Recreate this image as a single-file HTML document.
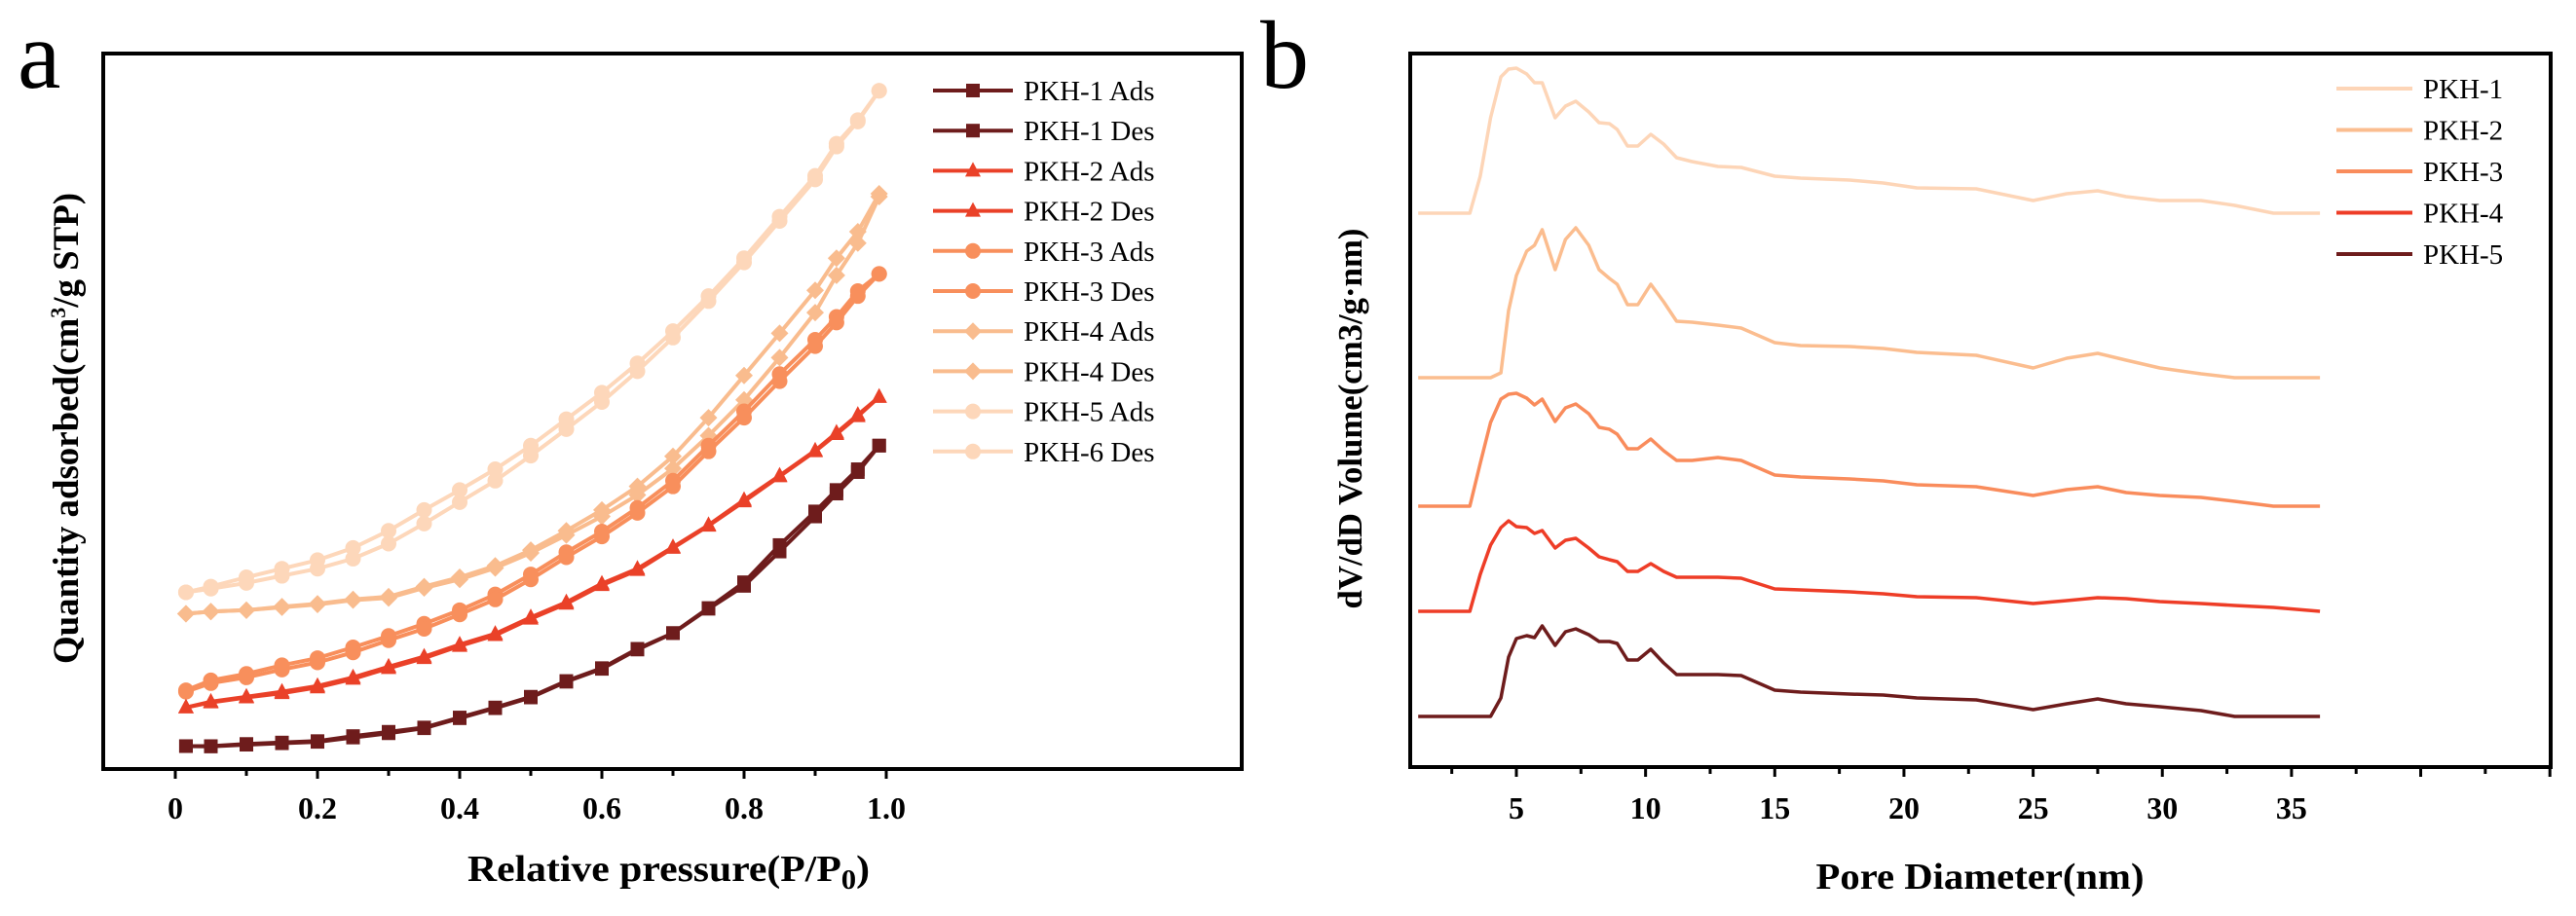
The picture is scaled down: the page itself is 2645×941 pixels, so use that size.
<!DOCTYPE html>
<html><head><meta charset="utf-8"><style>
html,body{margin:0;padding:0;background:#fff;}
svg{display:block;font-family:"Liberation Serif",serif;}
</style></head><body>
<svg id="fig" width="2645" height="941" viewBox="0 0 2645 941" xmlns="http://www.w3.org/2000/svg">
<text x="18" y="90" font-size="100">a</text>
<text x="1294" y="90" font-size="100">b</text>
<g id="pa"></g>
<g id="pb"></g>
</svg>
<script>
// ---------- Panel a data ----------
const pGrid = [0.015,0.05,0.1,0.15,0.2,0.25,0.3,0.35,0.4,0.45,0.5,0.55,0.6,0.65,0.7,0.75,0.8,0.85,0.9,0.93,0.96,0.99];
const pkh1Ads = [3.2,3.15,3.4,3.6,3.8,4.4,5.0,5.7,7.1,8.5,10.0,12.2,14.0,16.7,19.0,22.5,26.1,31.3,36.0,39.0,41.9,45.2];
const pkh1Des = [3.2,3.2,3.5,3.7,3.9,4.6,5.2,5.8,7.2,8.6,10.1,12.3,14.1,16.8,19.0,22.4,25.6,30.4,35.3,38.5,41.5,45.2];
const pkh2Ads = [8.6,9.3,10.0,10.6,11.4,12.6,14.1,15.5,17.2,18.7,21.0,23.1,25.7,27.8,30.9,34.0,37.4,40.9,44.4,46.8,49.3,52.0];
const pkh2Des = [8.6,9.4,10.1,10.8,11.6,12.8,14.3,15.7,17.4,18.9,21.2,23.3,25.9,28.0,31.0,34.1,37.6,41.0,44.5,47.0,49.5,52.0];
const pkh3Ads = [10.8,12.0,12.8,13.9,14.9,16.3,18.0,19.6,21.6,23.7,26.5,29.6,32.5,35.8,39.5,44.4,49.1,54.2,59.1,62.4,66.1,69.2];
const pkh3Des = [11.0,12.4,13.3,14.5,15.5,17.0,18.6,20.3,22.2,24.4,27.2,30.3,33.2,36.5,40.3,45.2,50.0,55.2,60.0,63.2,66.8,69.2];
const pkh4Ads = [21.7,22.0,22.2,22.7,23.1,23.7,24.1,25.5,26.8,28.4,30.6,33.3,36.2,39.5,43.7,49.1,55.0,60.9,66.9,71.4,75.1,80.4];
const pkh4Des = [21.7,22.0,22.2,22.6,23.0,23.6,23.9,25.3,26.5,28.1,30.2,32.7,35.3,38.3,42.0,46.6,51.6,57.5,63.8,69.0,73.5,80.0];
const pkh5Ads = [24.7,25.5,26.8,28.0,29.2,30.9,33.3,36.2,39.0,41.9,45.2,48.9,52.6,56.7,61.2,66.1,71.4,77.2,82.9,87.4,90.7,94.8];
const pkh5Des = [24.7,25.2,26.0,27.0,28.0,29.4,31.5,34.3,37.3,40.3,43.8,47.5,51.3,55.6,60.3,65.4,70.8,76.6,82.4,87.0,90.5,94.8];
const xTicksA = [0,0.2,0.4,0.6,0.8,1.0];
const xTickLabelsA = ["0","0.2","0.4","0.6","0.8","1.0"];
const legendA = ["PKH-1 Ads","PKH-1 Des","PKH-2 Ads","PKH-2 Des","PKH-3 Ads","PKH-3 Des","PKH-4 Ads","PKH-4 Des","PKH-5 Ads","PKH-6 Des"];

// ---------- Panel b data ----------
const dGrid = [1.2,3.2,3.6,4.0,4.4,4.7,5.0,5.4,5.7,6.0,6.5,6.9,7.3,7.8,8.2,8.6,8.9,9.3,9.7,10.2,10.7,11.2,11.8,12.8,13.7,15.0,16.0,17.9,19.2,20.5,22.8,25.0,26.3,27.5,28.6,29.9,31.5,32.8,34.3,36.1];
const psd1 = [0,0,38,98,140,148,149,143,134,134,98,110,115,104,93,92,86,69,69,81,71,57,53,48,47,38,36,34,31,26,25,13,20,23,17,13,13,8,0,0];
const psd2 = [0,0,0,0,5,69,105,130,136,152,111,142,154,136,111,102,96,75,75,96,78,58,57,54,51,36,33,32,30,26,23,10,20,25,18,10,4,0,0,0];
const psd3 = [0,0,44,86,110,115,116,111,104,110,87,101,105,95,81,79,74,59,59,69,57,47,47,50,47,32,30,28,26,22,20,11,17,20,14,11,9,5,0,0];
const psd4 = [0,0,38,68,86,93,87,86,80,83,65,73,75,65,56,53,51,41,41,49,41,35,35,35,34,23,22,20,18,15,14,8,11,14,13,10,8,6,4,0];
const psd5 = [0,0,0,0,19,61,80,83,81,93,73,87,90,84,77,77,75,58,58,69,55,43,43,43,42,27,25,23,22,19,17,7,13,18,13,10,6,0,0,0];
const psdOffsets = [569,400,268,160,52];
const xTicksB = [5,10,15,20,25,30,35];
const legendB = ["PKH-1","PKH-2","PKH-3","PKH-4","PKH-5"];

const NS="http://www.w3.org/2000/svg";
function mk(tag, attrs, parent){const e=document.createElementNS(NS,tag);for(const k in attrs)e.setAttribute(k,attrs[k]);parent.appendChild(e);return e;}

// ---------- Panel a ----------
(function(){
const g=document.getElementById('pa');
const L=106,R=1275,T=55,B=790;
const xs=v=>180+730*v, ys=v=>B-(B-T)*v/100;
const colors=["#6e1c1c","#6e1c1c","#ea4128","#ea4128","#f88f5c","#f88f5c","#f9bc8e","#f9bc8e","#fdd7ba","#fdd7ba"];
const shapes=["sq","sq","tri","tri","cir","cir","dia","dia","cir","cir"];
const series=[pkh1Ads,pkh1Des,pkh2Ads,pkh2Des,pkh3Ads,pkh3Des,pkh4Ads,pkh4Des,pkh5Ads,pkh5Des];
function marker(par,sh,x,y,c){
  let e;
  if(sh==="sq") e=mk('rect',{x:x-7,y:y-7,width:14,height:14,fill:c},par);
  else if(sh==="tri") e=mk('polygon',{points:`${x},${y-9} ${x+8},${y+6} ${x-8},${y+6}`,fill:c},par);
  else if(sh==="dia") e=mk('polygon',{points:`${x},${y-9} ${x+9},${y} ${x},${y+9} ${x-9},${y}`,fill:c},par);
  else e=mk('circle',{cx:x,cy:y,r:8,fill:c},par);
  return e;
}
for(let s=series.length-1;s>=0;s--){
  const sg=mk('g',{},g);
  
  
  const d=series[s].map((v,i)=>(i?'L':'M')+xs(pGrid[i]).toFixed(1)+','+ys(v).toFixed(1)).join('');
  mk('path',{d:d,fill:'none',stroke:colors[s],'stroke-width':4},sg);
  series[s].forEach((v,i)=>{const m=marker(sg,shapes[s],xs(pGrid[i]),ys(v),colors[s]);
    
    });
}
const fr=mk('rect',{x:L,y:T,width:R-L,height:B-T,fill:'none',stroke:'#000','stroke-width':4},g);


for(let v=0;v<=1.001;v+=0.1){mk('line',{x1:xs(v),x2:xs(v),y1:B,y2:B+(Math.round(v*10)%2===0?10:7),stroke:'#000','stroke-width':3},g);}
xTicksA.forEach((v,i)=>{const t=mk('text',{x:xs(v),y:841,'font-size':32,'font-weight':'bold','text-anchor':'middle'},g);t.textContent=xTickLabelsA[i];
  
  });
const xt=mk('text',{x:480,y:905,'font-size':38,'font-weight':'bold','textLength':413,'lengthAdjust':'spacingAndGlyphs'},g);
xt.innerHTML='Relative pressure(P/P<tspan dy="8" font-size="28">0</tspan><tspan dy="-8">)</tspan>';


const yt=mk('text',{x:0,y:0,'font-size':37,'font-weight':'bold','text-anchor':'middle','textLength':484,'lengthAdjust':'spacingAndGlyphs',transform:'translate(80,440) rotate(-90)'},g);
yt.innerHTML='Quantity adsorbed(cm<tspan dy="-13" font-size="22">3</tspan><tspan dy="13">/g STP)</tspan>';


legendA.forEach((n,i)=>{const y=93+i*41.2;const lg=mk('g',{},g);
  
  
  mk('line',{x1:958,x2:1040,y1:y,y2:y,stroke:colors[i],'stroke-width':4},lg);
  marker(lg,shapes[i],999,y,colors[i]);
  const t=mk('text',{x:1051,y:y+10,'font-size':29},lg);t.textContent=n;});
})();

// ---------- Panel b ----------
(function(){
const g=document.getElementById('pb');
const L=1448,R=2619,T=55,B=788;
const xs=v=>1557+(v-5)*26.53, ys=v=>B-v;
const colors=["#fdd5b7","#fbbd8f","#f98c5c","#ee3d27","#6e1c1c"];
const series=[psd1,psd2,psd3,psd4,psd5];
series.forEach((arr,s)=>{
  const d=arr.map((v,i)=>(i?'L':'M')+xs(dGrid[i]).toFixed(1)+','+ys(v+psdOffsets[s]).toFixed(1)).join('');
  const p=mk('path',{d:d,fill:'none',stroke:colors[s],'stroke-width':3.5,'stroke-linejoin':'round'},g);
  
  
});
const fr=mk('rect',{x:L,y:T,width:R-L,height:B-T,fill:'none',stroke:'#000','stroke-width':4},g);


for(let v=2.5;v<=45;v+=2.5){const x=xs(v);if(x>R)break;mk('line',{x1:x,x2:x,y1:B,y2:B+(v%5===0?10:7),stroke:'#000','stroke-width':3},g);}
xTicksB.forEach(v=>{const t=mk('text',{x:xs(v),y:841,'font-size':32,'font-weight':'bold','text-anchor':'middle'},g);t.textContent=String(v);
  
  });
const xt=mk('text',{x:2033,y:913,'font-size':38,'font-weight':'bold','text-anchor':'middle','textLength':337,'lengthAdjust':'spacingAndGlyphs'},g);
xt.textContent='Pore Diameter(nm)';


const yt=mk('text',{x:0,y:0,'font-size':35,'font-weight':'bold','text-anchor':'middle','textLength':391,'lengthAdjust':'spacingAndGlyphs',transform:'translate(1398,430) rotate(-90)'},g);
yt.textContent='dV/dD Volume(cm3/g·nm)';


legendB.forEach((n,i)=>{const y=91+i*42.5;const lg=mk('g',{},g);
  
  
  mk('line',{x1:2399,x2:2477,y1:y,y2:y,stroke:colors[i],'stroke-width':4},lg);
  const t=mk('text',{x:2488,y:y+10,'font-size':29},lg);t.textContent=n;});
})();
</script>
</body></html>
